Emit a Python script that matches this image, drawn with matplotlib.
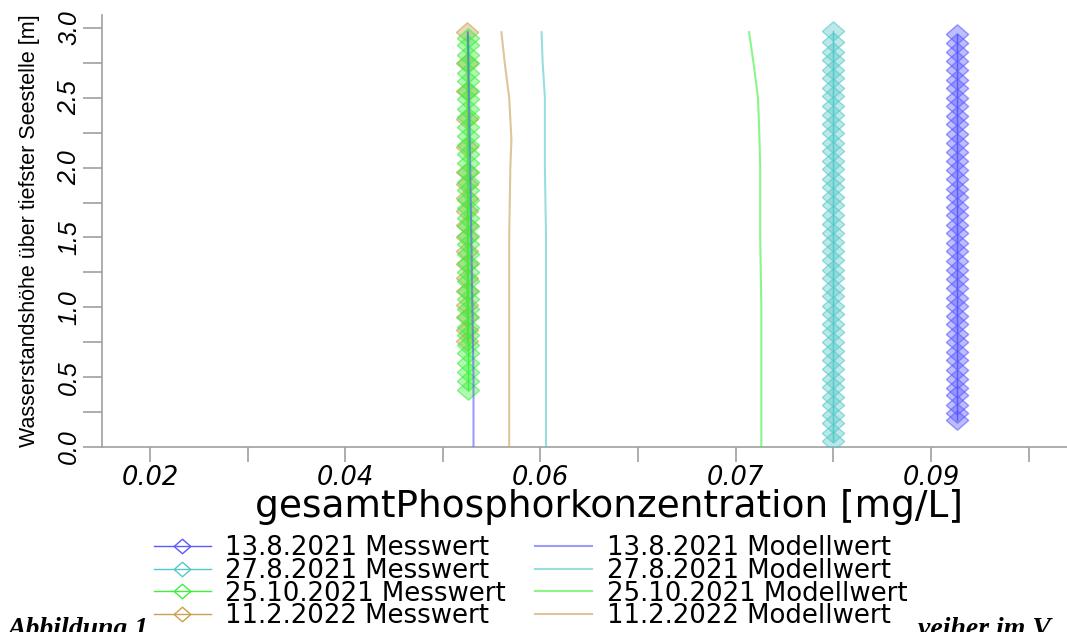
import matplotlib
matplotlib.use("Agg")
import matplotlib.pyplot as plt
from matplotlib.colors import to_rgba

plt.rcParams['font.family'] = ['Liberation Sans', 'DejaVu Sans']

# Messwerte (measured): one concentration per date, many depths
dates = ["13.8.2021", "27.8.2021", "25.10.2021", "11.2.2022"]
colors = ["#5a5aff", "#55c8c8", "#3cf03c", "#c8a050"]

mess_conc = [0.0938, 0.0827, 0.0500, 0.0499]
mess_depth = [
    [0.19, 0.24, 0.30, 0.37, 0.42, 0.49, 0.55, 0.62, 0.68, 0.75, 0.81, 0.88, 0.94, 1.01, 1.07,
     1.14, 1.20, 1.27, 1.33, 1.40, 1.46, 1.53, 1.59, 1.66, 1.72, 1.79, 1.85, 1.92, 1.98, 2.05,
     2.11, 2.18, 2.24, 2.31, 2.37, 2.44, 2.50, 2.57, 2.63, 2.70, 2.76, 2.83, 2.89, 2.96],
    [0.04, 0.10, 0.17, 0.23, 0.30, 0.36, 0.43, 0.49, 0.56, 0.62, 0.69, 0.75, 0.82, 0.88, 0.95,
     1.01, 1.08, 1.14, 1.21, 1.27, 1.34, 1.40, 1.47, 1.53, 1.60, 1.66, 1.73, 1.79, 1.86, 1.92,
     1.99, 2.05, 2.12, 2.18, 2.25, 2.31, 2.38, 2.44, 2.51, 2.57, 2.64, 2.70, 2.77, 2.83, 2.90, 2.98],
    [0.41, 0.47, 0.54, 0.60, 0.67, 0.73, 0.80, 0.86, 0.93, 0.99, 1.06, 1.12, 1.19, 1.25, 1.32,
     1.38, 1.45, 1.51, 1.58, 1.64, 1.71, 1.77, 1.84, 1.90, 1.97, 2.03, 2.10, 2.16, 2.23, 2.29,
     2.36, 2.42, 2.49, 2.55, 2.62, 2.68, 2.75, 2.81, 2.88, 2.93],
    [0.76, 0.84, 0.93, 1.02, 1.12, 1.21, 1.31, 1.40, 1.50, 1.59, 1.69, 1.78, 1.88, 1.97, 2.15,
     2.35, 2.55, 2.75, 2.97],
]

# Modellwerte (model profiles)
mod_depth = [
    [0.0, 0.5, 1.0, 1.5, 2.0, 2.5, 2.97],
    [0.0, 0.5, 1.0, 1.5, 2.0, 2.5, 2.75, 2.97],
    [0.0, 0.5, 1.0, 1.5, 2.0, 2.3, 2.5, 2.75, 2.97],
    [0.0, 0.5, 1.0, 1.5, 2.0, 2.2, 2.5, 2.75, 2.97],
]
mod_conc = [
    [0.0505, 0.0505, 0.0504, 0.0503, 0.0502, 0.0501, 0.0500],
    [0.0570, 0.0570, 0.0570, 0.0570, 0.0569, 0.0569, 0.0567, 0.0566],
    [0.0763, 0.0763, 0.0763, 0.0762, 0.0762, 0.0761, 0.0760, 0.0756, 0.0752],
    [0.0537, 0.0537, 0.0537, 0.0537, 0.0538, 0.0539, 0.0537, 0.0533, 0.0530],
]

x_ticks = [0.0215, 0.03025, 0.039, 0.04775, 0.0565, 0.06525, 0.074, 0.08275, 0.0915, 0.10025]
x_tick_labels = ["0.02", "", "0.04", "", "0.06", "", "0.07", "", "0.09", ""]
y_ticks = [0.0, 0.25, 0.5, 0.75, 1.0, 1.25, 1.5, 1.75, 2.0, 2.25, 2.5, 2.75, 3.0]
y_tick_labels = ["0.0", "", "0.5", "", "1.0", "", "1.5", "", "2.0", "", "2.5", "", "3.0"]

fig = plt.figure(figsize=(10.67, 6.32), dpi=100)
ax = fig.add_axes([0.0956, 0.2927, 0.9044, 0.6836])

diamond = [(-1.15, 0), (0, 1), (1.15, 0), (0, -1), (-1.15, 0)]
zorders = [3, 3, 4, 3.5]

handles = []
for i in range(4):
    c = colors[i]
    h, = ax.plot([mess_conc[i]] * len(mess_depth[i]), mess_depth[i], color=c, lw=1,
                 marker=diamond, markersize=16, markerfacecolor=to_rgba(c, 0.4),
                 markeredgecolor=to_rgba(c, 0.6), markeredgewidth=1,
                 zorder=zorders[i], label=dates[i] + " Messwert")
    handles.append(h)
for i in range(4):
    h, = ax.plot(mod_conc[i], mod_depth[i], color=colors[i], lw=1.5, alpha=0.6,
                 zorder=5, label=dates[i] + " Modellwert")
    handles.append(h)

ax.set_xlim(0.0172, 0.1037)
ax.set_ylim(0.0, 3.093)

ax.spines['top'].set_visible(False)
ax.spines['right'].set_visible(False)
for s in ['left', 'bottom']:
    ax.spines[s].set_color('#a0a0a0')
    ax.spines[s].set_linewidth(1.2)

ax.set_xticks(x_ticks)
ax.set_xticklabels(x_tick_labels, fontsize=18.5, style='italic', family='DejaVu Sans')
ax.set_yticks(y_ticks)
ax.set_yticklabels(y_tick_labels, fontsize=18, style='italic', rotation=90, va='center')
ax.tick_params(axis='x', length=11, width=1.2, color='#a0a0a0', pad=2)
ax.tick_params(axis='y', length=14, width=1.2, color='#a0a0a0', pad=1)

ax.set_xlabel("gesamtPhosphorkonzentration [mg/L]", fontsize=27, family='DejaVu Sans')
ax.xaxis.set_label_coords(0.525, -0.098)
ax.set_ylabel("Wasserstandshöhe über tiefster Seestelle [m]", fontsize=15.5)
ax.yaxis.set_label_coords(-0.064, 0.5)

# caption of the surrounding document, partly hidden behind the legend
cap_font = dict(family=['Liberation Serif', 'DejaVu Serif'], weight='bold', style='italic',
                fontsize=20)
fig.text(0.007, -0.007, "Abbildung 1", va='baseline', ha='left', **cap_font)
fig.text(0.86, -0.007, "veiher im V", va='baseline', ha='left', **cap_font)

leg = fig.legend(handles=handles, ncol=2, loc='upper left',
                 bbox_to_anchor=(0.139, 0.162), frameon=True,
                 prop={'family': 'DejaVu Sans', 'size': 18.7},
                 labelspacing=-0.12, handlelength=2.2, handletextpad=0.55,
                 columnspacing=1.14, borderpad=0.2, borderaxespad=0,
                 markerscale=0.75)
leg.get_frame().set_facecolor('white')
leg.get_frame().set_edgecolor('none')
leg.get_frame().set_alpha(1)
for h in leg.legend_handles[:4]:
    h.set_markerfacecolor('none')
    h.set_markeredgecolor(h.get_color())

fig.savefig("out.png", dpi=100)
